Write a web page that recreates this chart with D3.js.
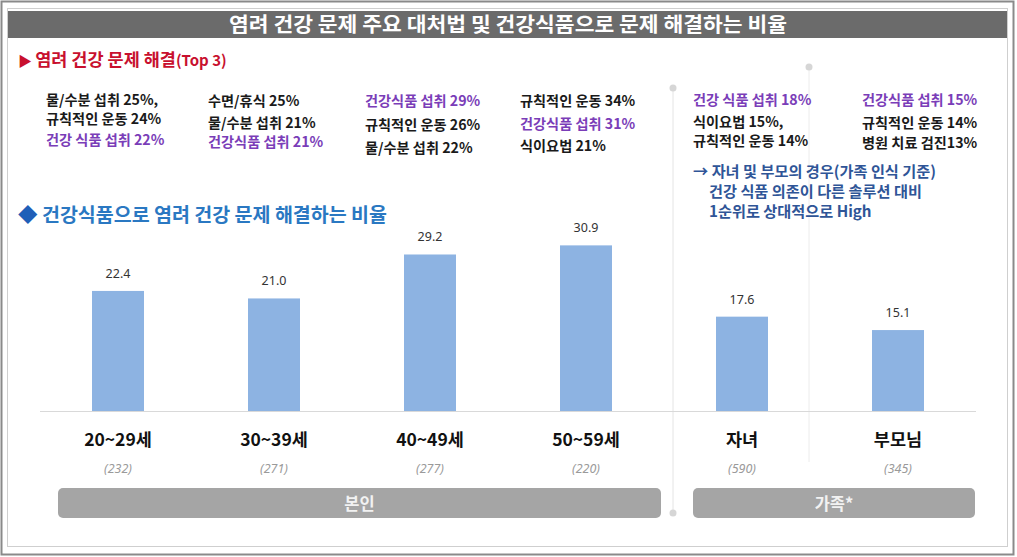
<!DOCTYPE html>
<html><head><meta charset="utf-8">
<script src="https://cdn.jsdelivr.net/npm/d3@7"></script>
<style>
html,body{margin:0;padding:0;background:#fff;}
svg{display:block;font-family:"Noto Sans CJK KR","Noto Sans",sans-serif;}
</style></head>
<body><svg id="c" width="1017" height="557"></svg>
<script>
// ---- data ----
const categories = ["20~29세", "30~39세", "40~49세", "50~59세", "자녀", "부모님"];
const values = [22.4, 21.0, 29.2, 30.9, 17.6, 15.1];
const sampleSizes = ["(232)", "(271)", "(277)", "(220)", "(590)", "(345)"];
const groupNames = ["본인", "가족*"];
const title = "염려 건강 문제 주요 대처법 및 건강식품으로 문제 해결하는 비율";
const subtitleTop = "염려 건강 문제 해결";
const subtitleTopSuffix = "(Top 3)";
const subtitleBars = "건강식품으로 염려 건강 문제 해결하는 비율";
// top-3 notes per category: [text, isHealthFood]
const top3Notes = [
  [["물/수분 섭취 25%,", false], ["규칙적인 운동 24%", false], ["건강 식품 섭취 22%", true]],
  [["수면/휴식 25%", false], ["물/수분 섭취 21%", false], ["건강식품 섭취 21%", true]],
  [["건강식품 섭취 29%", true], ["규칙적인 운동 26%", false], ["물/수분 섭취 22%", false]],
  [["규칙적인 운동 34%", false], ["건강식품 섭취 31%", true], ["식이요법 21%", false]],
  [["건강 식품 섭취 18%", true], ["식이요법 15%,", false], ["규칙적인 운동 14%", false]],
  [["건강식품 섭취 15%", true], ["규칙적인 운동 14%", false], ["병원 치료 검진13%", false]]
];
const noteLines = ["→ 자녀 및 부모의 경우(가족 인식 기준)", "건강 식품 의존이 다른 솔루션 대비", "1순위로 상대적으로 High"];

// ---- layout ----
const svg = d3.select("#c");
const baseY = 411;
const x = d3.scaleBand().domain(categories).range([40, 976]).paddingInner(2/3).paddingOuter(1/3);
const y = d3.scaleLinear().domain([0, 35]).range([baseY, baseY - 35 * 5.36]);

// frame
svg.append("rect").attr("x", 1.5).attr("y", 1.5).attr("width", 1012).attr("height", 553)
  .attr("fill", "#fff").attr("stroke", "#8a8a8a").attr("stroke-width", 2);
svg.append("rect").attr("x", 7.5).attr("y", 8.5).attr("width", 1000).attr("height", 538)
  .attr("fill", "none").attr("stroke", "#cfcfcf").attr("stroke-width", 1);
svg.append("rect").attr("x", 8).attr("y", 11).attr("width", 999).attr("height", 27).attr("fill", "#6b6b6b");
svg.append("text").attr("x", 508).attr("y", 31.5).attr("text-anchor", "middle")
  .attr("fill", "#fff").attr("font-size", 20).attr("font-weight", 700)
  .attr("textLength", 558).attr("lengthAdjust", "spacingAndGlyphs").text(title);

// dividers
const div1x = 673, div2x = 809;
svg.append("line").attr("x1", div1x).attr("x2", div1x).attr("y1", 88).attr("y2", 513)
  .attr("stroke", "#e4e4e4").attr("stroke-width", 1);
svg.append("circle").attr("cx", div1x).attr("cy", 88).attr("r", 3.5).attr("fill", "#d6d6d6");
svg.append("circle").attr("cx", div1x).attr("cy", 513).attr("r", 3.5).attr("fill", "#d6d6d6");
svg.append("line").attr("x1", div2x).attr("x2", div2x).attr("y1", 67).attr("y2", 462)
  .attr("stroke", "#ececec").attr("stroke-width", 1);
svg.append("circle").attr("cx", div2x).attr("cy", 67).attr("r", 3.5).attr("fill", "#d6d6d6");

// red subtitle
const st = svg.append("text").attr("x", 18).attr("y", 66).attr("fill", "#c8102e")
  .attr("font-weight", 700).attr("font-size", 17.5);
st.append("tspan").attr("font-size", 14).text("▶ ");
st.append("tspan").text(subtitleTop);
st.append("tspan").attr("font-size", 15).text(subtitleTopSuffix);

// top3 notes
const noteX = [46, 208, 365, 520, 693, 862];
const noteY = [
  [100, 119, 140], [101, 123, 142], [101, 125, 148],
  [101, 124, 146], [100, 122, 141], [100, 123, 143]
];
top3Notes.forEach((col, i) => {
  col.forEach((d, j) => {
    svg.append("text").attr("x", noteX[i]).attr("y", noteY[i][j] + 5)
      .attr("font-size", 14.2).attr("font-weight", 700)
      .attr("textLength", null)
      .attr("fill", d[1] ? "#7a3db8" : "#1a1a1a").text(d[0]);
  });
});

// blue note
noteLines.forEach((t, i) => {
  svg.append("text").attr("x", i === 0 ? 693 : 709).attr("y", [177, 197, 217][i])
    .attr("font-size", 15.2).attr("font-weight", 700).attr("fill", "#2f5597").text(t);
});

// blue subtitle
const bt = svg.append("text").attr("x", 18).attr("y", 222).attr("fill", "#2a78c2")
  .attr("font-weight", 700).attr("font-size", 19.5);
bt.append("tspan").attr("fill", "#1f5fb8").text("◆ ");
bt.append("tspan").text(subtitleBars);

// baseline
svg.append("line").attr("x1", 40).attr("x2", 976).attr("y1", baseY + 0.5).attr("y2", baseY + 0.5)
  .attr("stroke", "#d9d9d9").attr("stroke-width", 1);

// bars
svg.selectAll("rect.bar").data(categories).join("rect").attr("class", "bar")
  .attr("x", d => x(d)).attr("width", x.bandwidth())
  .attr("y", (d, i) => y(values[i])).attr("height", (d, i) => baseY - y(values[i]))
  .attr("fill", "#8db3e2");

svg.selectAll("text.val").data(categories).join("text").attr("class", "val")
  .attr("x", d => x(d) + x.bandwidth() / 2).attr("y", (d, i) => y(values[i]) - 13)
  .attr("text-anchor", "middle").attr("font-size", 12.5).attr("fill", "#333")
  .attr("font-family", "'Noto Sans',sans-serif")
  .text((d, i) => values[i].toFixed(1));

// category labels
svg.selectAll("text.cat").data(categories).join("text").attr("class", "cat")
  .attr("x", d => x(d) + x.bandwidth() / 2).attr("y", 446)
  .attr("text-anchor", "middle").attr("font-size", 17.5).attr("font-weight", 700).attr("fill", "#111")
  .text(d => d);
svg.selectAll("text.n").data(categories).join("text").attr("class", "n")
  .attr("x", d => x(d) + x.bandwidth() / 2).attr("y", 473)
  .attr("text-anchor", "middle").attr("font-size", 12.5).attr("font-style", "italic").attr("fill", "#9a9a9a")
  .attr("font-family", "'Noto Sans',sans-serif")
  .text((d, i) => sampleSizes[i]);

// group bars
const groupExtents = [[58, 661], [693, 975]];
groupNames.forEach((g, i) => {
  const [a, b] = groupExtents[i];
  svg.append("rect").attr("x", a).attr("y", 488).attr("width", b - a).attr("height", 30)
    .attr("rx", 5).attr("fill", "#a5a5a5");
  svg.append("text").attr("x", (a + b) / 2).attr("y", 509.5).attr("text-anchor", "middle")
    .attr("font-size", 16.5).attr("font-weight", 700).attr("fill", "#f2f2f2").text(g);
});
</script></body></html>
